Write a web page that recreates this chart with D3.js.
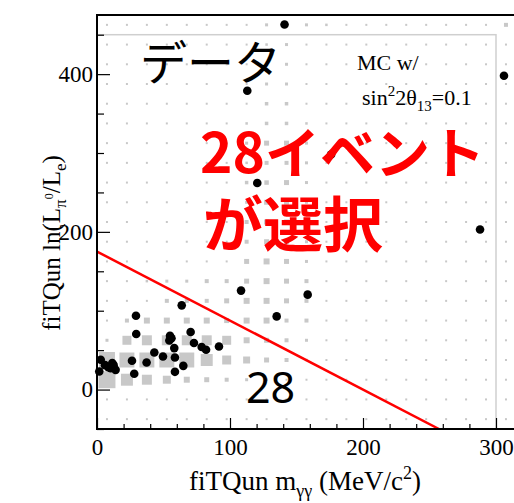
<!DOCTYPE html>
<html>
<head>
<meta charset="utf-8">
<script src="https://cdn.jsdelivr.net/npm/d3@7"></script>
<style>
  body { margin: 0; background: #fff; }
  svg { display: block; }
</style>
</head>
<body>
<script>
// Data events: fiTQun two-photon invariant mass (MeV/c^2) and ln(L_pi0/L_e)
const eventMass = [141, 113, 306, 120.5, 176, 288, 108.3, 158.4, 135.1, 63.7,
  29.3, 29.5, 54.9, 54.4, 70.4, 72.9, 78.7, 82, 91.7, 58.1,
  43.1, 49.6, 58.6, 37.3, 26.3, 64.9, 58.6, 28, 2.8, 1.7,
  8.5, 11.5, 10.3, 14, 6, 12.5, 56];
const eventLnL = [463, 379, 398, 262, 298, 203, 125.5, 120.4, 92.8, 106.8,
  93.7, 70.4, 68.3, 62.3, 73, 59, 53.9, 50.5, 54.7, 52.6,
  47, 42, 40.7, 34.3, 36.5, 30.1, 22.5, 20, 37.8, 22.9,
  28.5, 33.6, 27.2, 25, 31, 31, 65];

// MC expectation (sin^2 2theta13 = 0.1), box histogram.
// Bins of 15 MeV in mass and 25 in lnL; rows run from the top lnL bin down.
const mcMassStart = 0, mcMassStep = 15;
const mcLnLStart = -50, mcLnLStep = 25;
const mcRows = [
  [2,2,2,2,2,2,2,2,3,3,3,2.5,2,2,2,2,2,2,2,2,4],
  [2,2,2,2,2,2,2,2,2.5,3,2,2,2,2,2,2,2,2,2,2,2],
  [2,2,2,2,2,2,2,2,3,3,2,2,2,2,2,2,2,2,2,2,2],
  [2,2,2,2,2,2,2,2,3,3,2,2,2,2,2,2,2,2,2,2,2],
  [2,2,2,2,2,2,2,2,3.5,3.5,2,2,2,2,2,2,2,2,2,2,2],
  [2,2,2,2,2,2,2,2.5,3.5,3.5,2.5,2,2,2,2,2,2,2,2,2,2],
  [2,2,2,2,2,2,2,3,5,5,3,2,2,2,2,2,2,2,2,2,2],
  [2,2,2,2,2,2,2,2.5,4,4,3,2,2,2,2,2,2,2,2,2,2],
  [2,2,2,2,2,2,2,3.5,4.5,5,3,2,2,2,2,2,2,2,2,2,2],
  [2,2,2,2,2,2,2,3,5,5,3,2,2,2,2,2,2,2,2,2,2],
  [2,2,2,2,2,2,2,4,5,5,3,2,2,2,2,2,2,2,2,2,2],
  [2,2,2,2,2,2,2,4,5,5,3,2,2,2,2,2,2,2,2,2,2],
  [2,2,2,2,2,2,2,5,6,5,3,2,2,2,2,2,2,2,2,2,2],
  [2,2,2.5,3,3,4,4,5,6,5,4,2,2,2,2,2,2,2,2,2,2],
  [2,2,2,4,4,4,5,6,6,5,4,2,2,2,2,2,2,2,2,2,2],
  [2,4,6,6,6,6,5,6,6,4,4,2,2,2,2,2,2,2,2,2,2],
  [3,9,10,10,10,10,9,6,5,4,3,2,2,2,2,2,2,2,2,2,2],
  [16,15,15,15,15,12,9,7,5,4,2.5,2,2,2,2,2,2,2,2,2,2],
  [17,12,10,8,6,5,4,3,2.5,2,2,2,2,2,2,2,2,2,2,2,2],
  [2,2,2,2,2,2,2,2,2,2,2,2,2,2,2,2,2,2,2,2,2],
  [2,2,2,2,2,2,2,2,2,2,2,2,2,2,2,2,2,2,2,2,2]
];
const mcBoxFull = 20;          // content that fills a whole bin
const mcFrameMass = [0, 300];  // MC histogram frame
const mcFrameLnL = [-50, 450];

// Selection cut: ln(L_pi0/L_e) = 175 - 0.875 m
const cutIntercept = 175, cutSlope = -0.875;

const xMajorTicks = [0, 100, 200, 300];
const yMajorTicks = [0, 200, 400];
const xMinorStep = 20, yMinorStep = 50;

const W = 514, H = 503;
const plot = { left: 97, top: 15, bottom: 429 };

const x = d3.scaleLinear().domain([0, 320]).range([plot.left, plot.left + 320 * 1.33]);
const y = d3.scaleLinear().domain([-50, 475]).range([plot.bottom, plot.top]);

const svg = d3.select("body").append("svg")
  .attr("width", W).attr("height", H)
  .attr("viewBox", `0 0 ${W} ${H}`);

// MC boxes
const binW = x(mcMassStep) - x(0);
const side = d3.scaleLinear().domain([0, mcBoxFull]).range([0, binW]);
const cells = [];
mcRows.forEach((row, r) => {
  const j = mcRows.length - 1 - r;
  row.forEach((v, i) => {
    cells.push({ m: mcMassStart + (i + 0.5) * mcMassStep,
                 l: mcLnLStart + (j + 0.5) * mcLnLStep, v });
  });
});
svg.append("g").selectAll("rect").data(cells).join("rect")
  .attr("x", d => x(d.m) - side(d.v) / 2)
  .attr("y", d => y(d.l) - side(d.v) / 2)
  .attr("width", d => side(d.v))
  .attr("height", d => side(d.v))
  .attr("fill", "#c8c8c8");

// MC histogram frame
svg.append("rect")
  .attr("x", x(mcFrameMass[0])).attr("y", y(mcFrameLnL[1]))
  .attr("width", x(mcFrameMass[1]) - x(mcFrameMass[0]))
  .attr("height", y(mcFrameLnL[0]) - y(mcFrameLnL[1]))
  .attr("fill", "none").attr("stroke", "#cfcfcf").attr("stroke-width", 1.5);

// Cut line, clipped to the plotting region
svg.append("clipPath").attr("id", "plotClip").append("rect")
  .attr("x", plot.left).attr("y", plot.top)
  .attr("width", W - plot.left).attr("height", plot.bottom - plot.top);
const cutX = [0, (-50 - cutIntercept) / cutSlope];
svg.append("line")
  .attr("clip-path", "url(#plotClip)")
  .attr("x1", x(cutX[0])).attr("y1", y(cutIntercept + cutSlope * cutX[0]))
  .attr("x2", x(cutX[1])).attr("y2", y(cutIntercept + cutSlope * cutX[1]))
  .attr("stroke", "#ff0000").attr("stroke-width", 2.5);

// Data points
svg.append("g").selectAll("circle").data(eventMass.map((m, i) => [m, eventLnL[i]]))
  .join("circle")
  .attr("cx", d => x(d[0])).attr("cy", d => y(d[1]))
  .attr("r", 4.3).attr("fill", "#000");

// Axes (ticks pointing inward)
const serif = "'Liberation Serif', 'Times New Roman', serif";
const xMinor = d3.range(0, 321, xMinorStep).filter(v => !xMajorTicks.includes(v));
const yMinor = d3.range(-50, 476, yMinorStep).filter(v => !yMajorTicks.includes(v));

const gx = svg.append("g").attr("transform", `translate(0,${plot.bottom})`)
  .call(d3.axisBottom(x).tickValues(xMajorTicks).tickSize(-11).tickPadding(10).tickFormat(d3.format("d")));
const gxm = svg.append("g").attr("transform", `translate(0,${plot.bottom})`)
  .call(d3.axisBottom(x).tickValues(xMinor).tickSize(-5).tickFormat(""));
const gy = svg.append("g").attr("transform", `translate(${plot.left},0)`)
  .call(d3.axisLeft(y).tickValues(yMajorTicks).tickSize(-13).tickPadding(4).tickFormat(d3.format("d")));
const gym = svg.append("g").attr("transform", `translate(${plot.left},0)`)
  .call(d3.axisLeft(y).tickValues(yMinor).tickSize(-7).tickFormat(""));
[gx, gxm, gy, gym].forEach(g => {
  g.select(".domain").remove();
  g.selectAll("line").attr("stroke", "#000").attr("stroke-width", 1.2);
  g.selectAll("text").attr("font-family", serif).attr("font-size", 23).attr("fill", "#000");
});

// Frame
svg.append("path")
  .attr("d", `M${W + 5},${plot.top}H${plot.left}V${plot.bottom}H${W + 5}`)
  .attr("fill", "none").attr("stroke", "#000").attr("stroke-width", 2);

// Axis titles
const xt = svg.append("text").attr("x", 305).attr("y", 490)
  .attr("text-anchor", "middle").attr("font-family", serif).attr("font-size", 27);
xt.append("tspan").text("fiTQun m");
xt.append("tspan").attr("font-size", 18).attr("dy", 7).text("γγ");
xt.append("tspan").attr("dy", -7).text(" (MeV/c");
xt.append("tspan").attr("font-size", 18).attr("dy", -11).text("2");
xt.append("tspan").attr("dy", 11).text(")");

const yt = svg.append("text").attr("transform", "translate(60,243) rotate(-90)")
  .attr("text-anchor", "middle").attr("font-family", serif).attr("font-size", 25);
yt.append("tspan").text("fiTQun ln(L");
yt.append("tspan").attr("font-size", 17).attr("dy", 6).text("π");
yt.append("tspan").attr("font-size", 12).attr("dy", -13).text("0");
yt.append("tspan").attr("dy", 7).text("/L");
yt.append("tspan").attr("font-size", 17).attr("dy", 6).text("e");
yt.append("tspan").attr("dy", -6).text(")");

// Annotations
const jp = "'Noto Sans CJK JP', 'Noto Sans', sans-serif";
svg.append("text").attr("x", 140).attr("y", 80)
  .attr("font-family", jp).attr("font-size", 47).attr("fill", "#000").text("データ");

svg.append("text").attr("x", 357).attr("y", 70)
  .attr("font-family", serif).attr("font-size", 22).text("MC w/");
const mc2 = svg.append("text").attr("x", 362).attr("y", 105)
  .attr("font-family", serif).attr("font-size", 22);
mc2.append("tspan").text("sin");
mc2.append("tspan").attr("font-size", 15).attr("dy", -9).text("2");
mc2.append("tspan").attr("dy", 9).text("2θ");
mc2.append("tspan").attr("font-size", 15).attr("dy", 6).text("13");
mc2.append("tspan").attr("dy", -6).text("=0.1");

svg.append("text").attr("x", 200).attr("y", 173)
  .attr("font-family", jp).attr("font-weight", "bold").attr("font-size", 55)
  .attr("fill", "#ff0000").text("28イベント");
svg.append("text").attr("x", 203).attr("y", 247)
  .attr("font-family", jp).attr("font-weight", "bold").attr("font-size", 60)
  .attr("fill", "#ff0000").text("が選択");

svg.append("text").attr("x", 246).attr("y", 403)
  .attr("font-family", "'Noto Sans', sans-serif").attr("font-size", 43)
  .attr("fill", "#000").text("28");
</script>
</body>
</html>
